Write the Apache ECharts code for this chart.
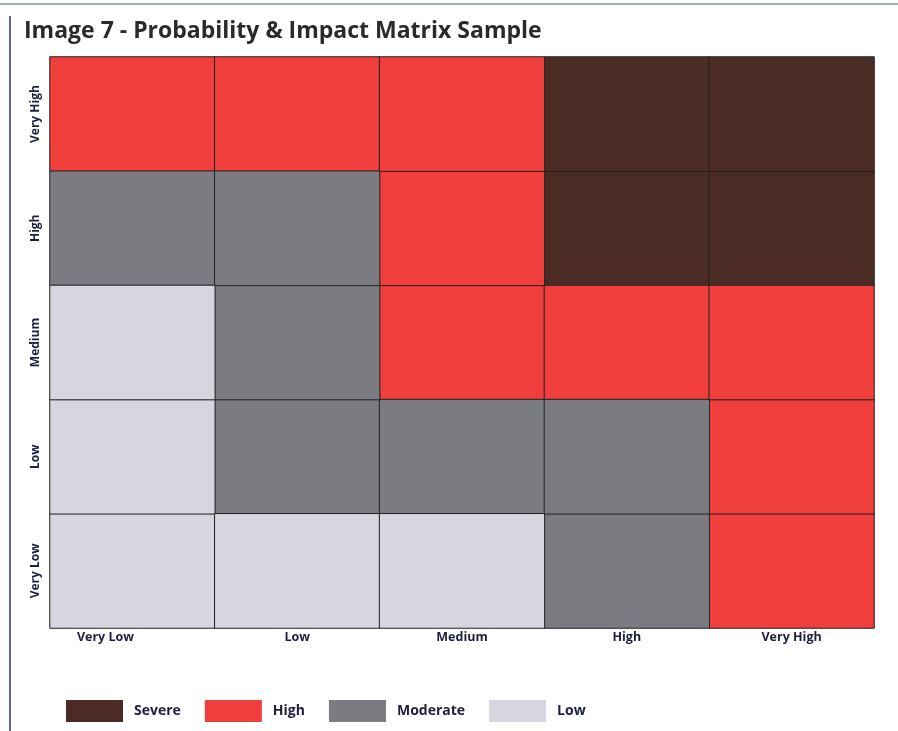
<!DOCTYPE html>
<html>
<head>
<meta charset="utf-8">
<script src="https://cdn.jsdelivr.net/npm/echarts@6/dist/echarts.min.js"></script>
<style>
  html, body { margin: 0; padding: 0; background: #ffffff; }
  #chart { width: 898px; height: 731px; }
</style>
</head>
<body>
<div id="chart"></div>
<script>
// Impact runs left to right, probability bottom to top
const impactLevels = ['Very Low', 'Low', 'Medium', 'High', 'Very High'];
const probabilityLevels = ['Very Low', 'Low', 'Medium', 'High', 'Very High'];

// Risk rating index: 0 = Low, 1 = Moderate, 2 = High, 3 = Severe
const ratingNames = ['Low', 'Moderate', 'High', 'Severe'];
const ratingColors = ['#d5d6df', '#7b7c82', '#ef3e3b', '#4b2b24'];

// One row per probability level, cells ordered by impact
const probVeryLow  = [0, 0, 0, 1, 2];
const probLow      = [0, 1, 1, 1, 2];
const probMedium   = [0, 1, 2, 2, 2];
const probHigh     = [1, 1, 2, 3, 3];
const probVeryHigh = [2, 2, 2, 3, 3];

const rows = [probVeryLow, probLow, probMedium, probHigh, probVeryHigh];

// One heatmap series per rating so each gets its own colour and legend entry
const legendOrder = [3, 2, 1, 0];
const series = legendOrder.map(r => {
  const data = [];
  rows.forEach((row, yi) => row.forEach((v, xi) => { if (v === r) data.push([xi, yi, v]); }));
  return {
    name: ratingNames[r],
    type: 'heatmap',
    data: data,
    itemStyle: { color: ratingColors[r], borderColor: '#222222', borderWidth: 1 },
    emphasis: { disabled: true }
  };
});

const labelColor = '#1d1f3f';
const chart = echarts.init(document.getElementById('chart'));
chart.setOption({
  backgroundColor: '#ffffff',
  animation: false,
  color: legendOrder.map(r => ratingColors[r]),
  title: {
    text: 'Image 7 - Probability & Impact Matrix Sample',
    left: 19, top: 15,
    textStyle: { fontFamily: 'Open Sans', fontWeight: 'bold', fontSize: 23, color: '#2a2a2a' }
  },
  grid: { left: 50, right: 24, top: 57, bottom: 103 },
  xAxis: {
    type: 'category',
    data: impactLevels.map((v, i) => i === 0
      ? { value: v, textStyle: { padding: [0, 54, 0, 0] } }
      : v),
    axisLine: { show: false }, axisTick: { show: false }, splitLine: { show: false },
    axisLabel: { color: labelColor, fontFamily: 'Open Sans', fontWeight: 'bold', fontSize: 12.5, margin: 3 }
  },
  yAxis: {
    type: 'category',
    data: probabilityLevels,
    axisLine: { show: false }, axisTick: { show: false }, splitLine: { show: false },
    axisLabel: { color: labelColor, fontFamily: 'Open Sans', fontWeight: 'bold', fontSize: 12, rotate: 90, margin: 8 }
  },
  legend: {
    left: 61, top: 695,
    itemWidth: 57, itemHeight: 22, itemGap: 24,
    icon: 'rect',
    selectedMode: false,
    itemStyle: { borderWidth: 0 },
    data: legendOrder.map(r => ratingNames[r]),
    textStyle: { color: labelColor, fontFamily: 'Open Sans', fontWeight: 'bold', fontSize: 14, padding: [0, 0, 0, 6] }
  },
  series: series,
  graphic: [
    { type: 'line', shape: { x1: 10, y1: 16, x2: 10, y2: 731 }, style: { stroke: '#27356a', lineWidth: 1.5 } },
    { type: 'line', shape: { x1: 0, y1: 4, x2: 898, y2: 4 }, style: { stroke: '#9fb0c8', lineWidth: 2 } }
  ]
});
</script>
</body>
</html>
